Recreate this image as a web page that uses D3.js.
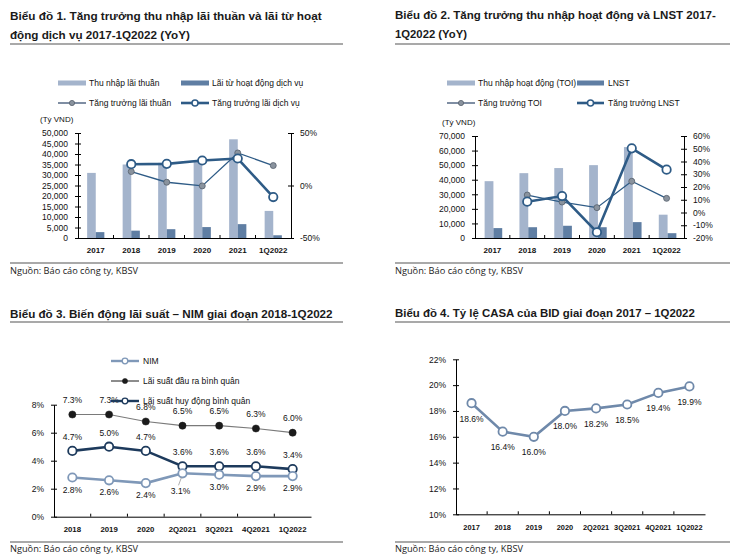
<!DOCTYPE html>
<html><head><meta charset="utf-8">
<script src="https://cdn.jsdelivr.net/npm/d3@7"></script>
<style>
html,body{margin:0;padding:0;background:#fff;}
svg{display:block;font-family:"Liberation Sans",Arial,sans-serif;}
</style></head>
<body>
<svg id="c" width="730" height="559"></svg>
<script>
// ---------- DATA ----------
const years6 = ["2017","2018","2019","2020","2021","1Q2022"];
// Chart 1
const c1NetInterest = [31000,35000,35800,36500,47000,12900];
const c1ServiceFee  = [2800,3500,4200,5200,6600,1300];
const c1NetIntGrowth = [null,13.3,3.1,-0.4,31,19];
const c1FeeGrowth    = [null,20.3,20.6,23.8,25.7,-11];
const c1LeftTicks = [0,5000,10000,15000,20000,25000,30000,35000,40000,45000,50000];
const c1RightTicks = [-50,0,50];
// Chart 2
const c2TOI  = [39000,44500,48000,50000,62400,16000];
const c2LNST = [6800,7400,8400,7400,10900,3300];
const c2TOIGrowth  = [null,13.7,8.2,3.8,24.5,11.1];
const c2LNSTGrowth = [null,8.5,12.9,-15.5,50.3,33.6];
const c2LeftTicks = [0,10000,20000,30000,40000,50000,60000,70000];
const c2RightTicks = [-20,-10,0,10,20,30,40,50,60];
// Chart 3
const c3Periods = ["2018","2019","2020","2Q2021","3Q2021","4Q2021","1Q2022"];
const c3NIM = [2.8,2.6,2.4,3.1,3.0,2.9,2.9];
const c3Lending = [7.3,7.3,6.8,6.5,6.5,6.3,6.0];
const c3Funding = [4.7,5.0,4.7,3.6,3.6,3.6,3.4];
const c3Ticks = [0,2,4,6,8];
// Chart 4
const c4Periods = ["2017","2018","2019","2020","2Q2021","3Q2021","4Q2021","1Q2022"];
const c4CASA = [18.6,16.4,16.0,18.0,18.2,18.5,19.4,19.9];
const c4Ticks = [10,12,14,16,18,20,22];

// ---------- STYLE ----------
const LIGHT_BAR = "#a4b4cc", DARK_BAR = "#5f7ea3";
const LINE_BLUE = "#2e5b86", MARK_GRAY = "#8a939e";
const svg = d3.select("#c");
const fmt = d3.format(",");

function txt(g, x, y, s, o = {}) {
  const t = g.append("text").attr("x", x).attr("y", y).text(s)
    .attr("font-size", o.size || 8.5).attr("fill", o.fill || "#111")
    .attr("dominant-baseline", "central")
    .attr("text-anchor", o.anchor || "start");
  if (o.bold) t.attr("font-weight", "bold");
  if (o.family) t.attr("font-family", o.family);
  if (o.fit) {
    const w = t.node().getComputedTextLength();
    const fs = (o.size || 8.5) * o.fit / w;
    t.attr("font-size", fs.toFixed(2));
  }
  return t;
}
function rule(x1, x2, y) {
  svg.append("line").attr("x1", x1).attr("x2", x2).attr("y1", y).attr("y2", y)
    .attr("stroke", "#a9a9a9").attr("stroke-width", 2);
}
function title(x, lines, y0, lens) {
  lines.forEach((l, i) => txt(svg, x, y0 + i * 19, l,
    {size: 13, bold: true, fill: "#1a1a1a", fit: lens[i], family: "'Liberation Sans',Arial,sans-serif"}));
}
function source(x, y) {
  txt(svg, x, y, "Nguồn: Báo cáo công ty, KBSV", {size: 10, fill: "#222", fit: 128, family: "'Open Sans','Liberation Sans',sans-serif"});
}
function leftAxis(g, scale, x, ticks, f) {
  const a = g.append("g").attr("transform", `translate(${x},0)`)
    .call(d3.axisLeft(scale).tickValues(ticks).tickFormat(f).tickSize(0).tickPadding(10));
  a.select(".domain").attr("stroke", "#000");
  a.selectAll("text").attr("font-size", 8.5).attr("fill", "#111").attr("font-family", "'Liberation Sans',Arial,sans-serif");
  a.selectAll(".tick").append("line").attr("x1", -3).attr("x2", 3).attr("stroke", "#000");
  return a;
}
function rightAxis(g, scale, x, ticks, f) {
  const a = g.append("g").attr("transform", `translate(${x},0)`)
    .call(d3.axisRight(scale).tickValues(ticks).tickFormat(f).tickSize(0).tickPadding(9));
  a.select(".domain").attr("stroke", "#000");
  a.selectAll("text").attr("font-size", 8.5).attr("fill", "#111").attr("font-family", "'Liberation Sans',Arial,sans-serif");
  a.selectAll(".tick").append("line").attr("x1", -3).attr("x2", 3).attr("stroke", "#000");
  return a;
}
function bottomAxis(g, band, y, labelY, fs) {
  const a = g.append("g").attr("transform", `translate(0,${y})`)
    .call(d3.axisBottom(band).tickSize(0).tickPadding(labelY));
  a.select(".domain").attr("stroke", "#000");
  a.selectAll("text").attr("font-size", fs || 8).attr("font-weight", "bold").attr("fill", "#111")
    .attr("font-family", "'Liberation Sans',Arial,sans-serif");
  const dom = band.domain();
  for (let i = 1; i < dom.length; i++) {
    const bx = band(dom[i]) - band.step() * band.paddingInner() / 2;
    g.append("line").attr("x1", bx).attr("x2", bx).attr("y1", y).attr("y2", y - 3).attr("stroke", "#000");
  }
  return a;
}
function lineSeries(g, band, y, vals, o) {
  const pts = vals.map((v, i) => [band(band.domain()[i]) + band.bandwidth() / 2, v]).filter(p => p[1] != null);
  g.append("path").datum(pts)
    .attr("d", d3.line().x(p => p[0]).y(p => y(p[1])))
    .attr("fill", "none").attr("stroke", o.stroke).attr("stroke-width", o.width);
  g.selectAll(null).data(pts).enter().append("circle")
    .attr("cx", p => p[0]).attr("cy", p => y(p[1])).attr("r", o.r)
    .attr("fill", o.fill).attr("stroke", o.mstroke).attr("stroke-width", o.mwidth);
  return pts;
}
function legendLine(g, x1, x2, y, o) {
  g.append("line").attr("x1", x1).attr("x2", x2).attr("y1", y).attr("y2", y)
    .attr("stroke", o.stroke).attr("stroke-width", o.width);
  g.append("circle").attr("cx", (x1 + x2) / 2).attr("cy", y).attr("r", o.r)
    .attr("fill", o.fill).attr("stroke", o.mstroke).attr("stroke-width", o.mwidth);
}
function legendBar(g, x1, x2, y, color) {
  g.append("rect").attr("x", x1).attr("y", y - 2.5).attr("width", x2 - x1).attr("height", 5).attr("fill", color);
}

const thinStyle  = {stroke: LINE_BLUE, width: 1.3, r: 3, fill: MARK_GRAY, mstroke: "#55606c", mwidth: 0.8};
const thickStyle = {stroke: LINE_BLUE, width: 2.6, r: 4.2, fill: "#fff", mstroke: LINE_BLUE, mwidth: 1.8};

// ---------- CHART 1 ----------
(function () {
  const g = svg.append("g");
  title(10, ["Biểu đồ 1. Tăng trưởng thu nhập lãi thuần và lãi từ hoạt", "động dịch vụ 2017-1Q2022 (YoY)"], 15, [312, 180]);
  rule(10, 343, 44);
  legendBar(g, 58, 86, 83, LIGHT_BAR); txt(g, 89, 83, "Thu nhập lãi thuần");
  legendBar(g, 181, 209, 83, DARK_BAR); txt(g, 212, 83, "Lãi từ hoạt động dịch vụ");
  legendLine(g, 58, 86, 103, {stroke: "#7f8ea3", width: 2, r: 2.6, fill: MARK_GRAY, mstroke: "#55606c", mwidth: 0.8});
  txt(g, 89, 103, "Tăng trưởng lãi thuần");
  legendLine(g, 181, 209, 103, {stroke: LINE_BLUE, width: 2.6, r: 3, fill: "#fff", mstroke: LINE_BLUE, mwidth: 1.5});
  txt(g, 212, 103, "Tăng trưởng lãi dịch vụ");
  txt(g, 40, 119, "(Tỷ VND)", {size: 8});

  const x = d3.scaleBand().domain(years6).range([78, 291]);
  const yL = d3.scaleLinear().domain([0, 50000]).range([238, 133]);
  const yR = d3.scaleLinear().domain([-50, 50]).range([238, 133]);
  const bw = 8.6;
  g.selectAll(null).data(c1NetInterest).enter().append("rect")
    .attr("x", (d, i) => x(years6[i]) + x.bandwidth() / 2 - bw).attr("width", bw)
    .attr("y", d => yL(d)).attr("height", d => yL(0) - yL(d)).attr("fill", LIGHT_BAR);
  g.selectAll(null).data(c1ServiceFee).enter().append("rect")
    .attr("x", (d, i) => x(years6[i]) + x.bandwidth() / 2).attr("width", bw)
    .attr("y", d => yL(d)).attr("height", d => yL(0) - yL(d)).attr("fill", DARK_BAR);
  leftAxis(g, yL, 78, c1LeftTicks, fmt);
  rightAxis(g, yR, 291, c1RightTicks, d => d + "%");
  bottomAxis(g, x, 238, 9, 8);
  lineSeries(g, x, yR, c1NetIntGrowth, thinStyle);
  lineSeries(g, x, yR, c1FeeGrowth, thickStyle);
  rule(10, 343, 263);
  source(10, 270);
})();

// ---------- CHART 2 ----------
(function () {
  const g = svg.append("g");
  title(395, ["Biểu đồ 2. Tăng trưởng thu nhập hoạt động và LNST 2017-", "1Q2022 (YoY)"], 15, [321, 72]);
  rule(395, 730, 44);
  legendBar(g, 447, 475, 83, LIGHT_BAR); txt(g, 478, 83, "Thu nhập hoạt động (TOI)");
  legendBar(g, 577, 604, 83, DARK_BAR); txt(g, 608, 83, "LNST");
  legendLine(g, 447, 475, 103, {stroke: "#7f8ea3", width: 2, r: 2.6, fill: MARK_GRAY, mstroke: "#55606c", mwidth: 0.8});
  txt(g, 478, 103, "Tăng trưởng TOI");
  legendLine(g, 577, 604, 103, {stroke: LINE_BLUE, width: 2.6, r: 3, fill: "#fff", mstroke: LINE_BLUE, mwidth: 1.5});
  txt(g, 608, 103, "Tăng trưởng LNST");
  txt(g, 442, 122, "(Tỷ VND)", {size: 8});

  const x = d3.scaleBand().domain(years6).range([475, 684]);
  const yL = d3.scaleLinear().domain([0, 70000]).range([238, 136]);
  const yR = d3.scaleLinear().domain([-20, 60]).range([238, 136]);
  const bw = 8.8;
  g.selectAll(null).data(c2TOI).enter().append("rect")
    .attr("x", (d, i) => x(years6[i]) + x.bandwidth() / 2 - bw + 1).attr("width", bw)
    .attr("y", d => yL(d)).attr("height", d => yL(0) - yL(d)).attr("fill", LIGHT_BAR);
  g.selectAll(null).data(c2LNST).enter().append("rect")
    .attr("x", (d, i) => x(years6[i]) + x.bandwidth() / 2 + 1).attr("width", bw)
    .attr("y", d => yL(d)).attr("height", d => yL(0) - yL(d)).attr("fill", DARK_BAR);
  leftAxis(g, yL, 475, c2LeftTicks, fmt);
  rightAxis(g, yR, 684, c2RightTicks, d => d + "%");
  bottomAxis(g, x, 238, 9, 8);
  lineSeries(g, x, yR, c2TOIGrowth, thinStyle);
  lineSeries(g, x, yR, c2LNSTGrowth, thickStyle);
  rule(395, 730, 263);
  source(395, 270);
})();

// ---------- CHART 3 ----------
(function () {
  const g = svg.append("g");
  title(10, ["Biểu đồ 3. Biến động lãi suất – NIM giai đoạn 2018-1Q2022"], 313, [323]);
  rule(10, 343, 322);
  const NIMc = "#7f98b8", FUNDc = "#1d3a5c";
  const x = d3.scaleBand().domain(c3Periods).range([54, 311]);
  const y = d3.scaleLinear().domain([0, 8]).range([516.7, 404.7]);
  leftAxis(g, y, 54, c3Ticks, d => d + "%");
  bottomAxis(g, x, 516.7, 10, 7.8);

  const pL = lineSeries(g, x, y, c3Lending, {stroke: "#7a7a7a", width: 1.2, r: 3.6, fill: "#1b1b1b", mstroke: "#1b1b1b", mwidth: 0.5});
  const pF = lineSeries(g, x, y, c3Funding, {stroke: FUNDc, width: 2.6, r: 4.2, fill: "#fff", mstroke: FUNDc, mwidth: 1.8});
  const pN = lineSeries(g, x, y, c3NIM, {stroke: NIMc, width: 2.6, r: 4.2, fill: "#fff", mstroke: NIMc, mwidth: 1.8});
  const f1 = d => d.toFixed(1) + "%";
  pL.forEach(p => txt(g, p[0], y(p[1]) - 14.5, f1(p[1]), {anchor: "middle"}));
  pF.forEach(p => txt(g, p[0], y(p[1]) - 14, f1(p[1]), {anchor: "middle"}));
  pN.forEach((p, i) => {
    if (i === 3) {
      g.append("line").attr("x1", p[0] - 1).attr("x2", p[0] - 4).attr("y1", y(p[1]) + 4).attr("y2", y(p[1]) + 12)
        .attr("stroke", "#999").attr("stroke-width", 0.8);
      txt(g, p[0] - 2, y(p[1]) + 18, f1(p[1]), {anchor: "middle"});
    } else txt(g, p[0], y(p[1]) + 12, f1(p[1]), {anchor: "middle"});
  });

  legendLine(g, 111, 139, 361, {stroke: NIMc, width: 2.4, r: 2.8, fill: "#fff", mstroke: NIMc, mwidth: 1.3});
  txt(g, 143, 361, "NIM");
  legendLine(g, 111, 139, 381, {stroke: "#1b1b1b", width: 1, r: 2.6, fill: "#1b1b1b", mstroke: "#1b1b1b", mwidth: 0.5});
  txt(g, 143, 381, "Lãi suất đầu ra bình quân");
  legendLine(g, 111, 139, 401, {stroke: FUNDc, width: 2.4, r: 2.8, fill: "#fff", mstroke: FUNDc, mwidth: 1.3});
  txt(g, 143, 401, "Lãi suất huy động bình quân");
  rule(10, 343, 542);
  source(10, 548);
})();

// ---------- CHART 4 ----------
(function () {
  const g = svg.append("g");
  title(395, ["Biểu đồ 4. Tỷ lệ CASA của BID giai đoạn 2017 – 1Q2022"], 313, [300]);
  rule(395, 730, 322);
  const c = "#6f89aa";
  const x = d3.scaleBand().domain(c4Periods).range([456, 705]);
  const y = d3.scaleLinear().domain([10, 22]).range([514.3, 359.3]);
  leftAxis(g, y, 456, c4Ticks, d => d + "%");
  bottomAxis(g, x, 514.3, 10, 7.4);
  const p = lineSeries(g, x, y, c4CASA, {stroke: c, width: 2.6, r: 4.2, fill: "#fff", mstroke: c, mwidth: 1.8});
  p.forEach(q => txt(g, q[0], y(q[1]) + 15.5, q[1].toFixed(1) + "%", {anchor: "middle"}));
  rule(395, 730, 542);
  source(395, 548);
})();
</script>
</body></html>
